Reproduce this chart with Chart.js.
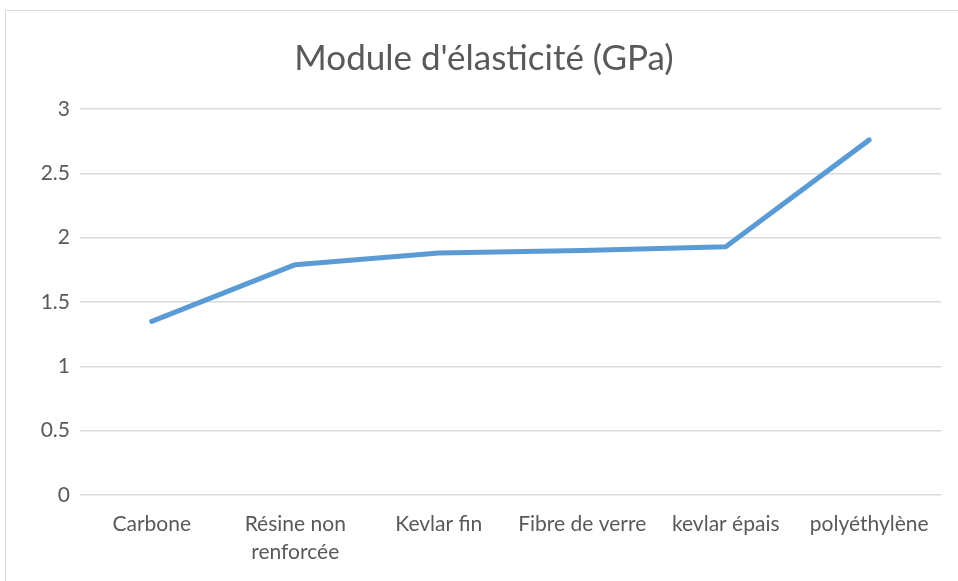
<!DOCTYPE html>
<html lang="fr">
<head>
<meta charset="UTF-8">
<title>Module d'élasticité</title>
<style>
    html, body { margin: 0; padding: 0; background: #fff; overflow: hidden; }
    #frame { position: absolute; left: 5px; top: 10px; width: 970px; height: 590px; border: 1px solid #d9d9d9; }
    #wrap { position: absolute; left: 0; top: 0; width: 952px; height: 570px; }
</style>
</head>
<body>

<div id="frame">
    <div id="wrap"><canvas id="chart"></canvas></div>
</div>

<script src="https://cdn.jsdelivr.net/npm/chart.js"></script>
<script>
    const categories = ['Carbone', ['Résine non', 'renforcée'], 'Kevlar fin', 'Fibre de verre', 'kevlar épais', 'polyéthylène'];
    const modulus = [1.35, 1.79, 1.88, 1.90, 1.93, 2.76];
    const yTicks = [0, 0.5, 1, 1.5, 2, 2.5, 3];

    const textColor = '#595959';
    const gridColor = '#d9d9d9';
    const fontFamily = 'Lato, "Open Sans", sans-serif';

    new Chart(document.getElementById('chart'), {
        type: 'line',
        data: {
            labels: categories,
            datasets: [{
                label: "Module d'élasticité (GPa)",
                data: modulus,
                borderColor: '#5b9bd5',
                borderWidth: 5,
                borderCapStyle: 'round',
                borderJoinStyle: 'round',
                pointRadius: 0,
                tension: 0,
                fill: false
            }]
        },
        options: {
            responsive: true,
            maintainAspectRatio: false,
            animation: false,
            // left padding shifts the title centre to match the original
            layout: { padding: { left: 21, right: 17, top: 0, bottom: 0 } },
            plugins: {
                legend: { display: false },
                tooltip: { enabled: false },
                title: {
                    display: true,
                    text: "Module d'élasticité (GPa)",
                    color: textColor,
                    font: { family: fontFamily, size: 35, weight: 'normal', lineHeight: 1.2 },
                    padding: { top: 27, bottom: 29 }
                }
            },
            scales: {
                x: {
                    offset: true,
                    grid: { display: false, drawTicks: false },
                    border: { display: false },
                    ticks: {
                        color: textColor,
                        font: { family: fontFamily, size: 21, lineHeight: 1.3 },
                        padding: 16,
                        maxRotation: 0,
                        autoSkip: false
                    },
                    afterFit: s => { s.height = 86; }
                },
                y: {
                    min: 0,
                    max: 3,
                    afterBuildTicks: s => { s.ticks = yTicks.map(v => ({ value: v })); },
                    grid: { color: gridColor, lineWidth: 1.5, drawTicks: false },
                    border: { display: false },
                    ticks: {
                        color: textColor,
                        font: { family: fontFamily, size: 21 },
                        padding: 10,
                        callback: v => String(v)
                    },
                    afterFit: s => { s.width = 53; }
                }
            }
        }
    });
</script>

</body>
</html>
